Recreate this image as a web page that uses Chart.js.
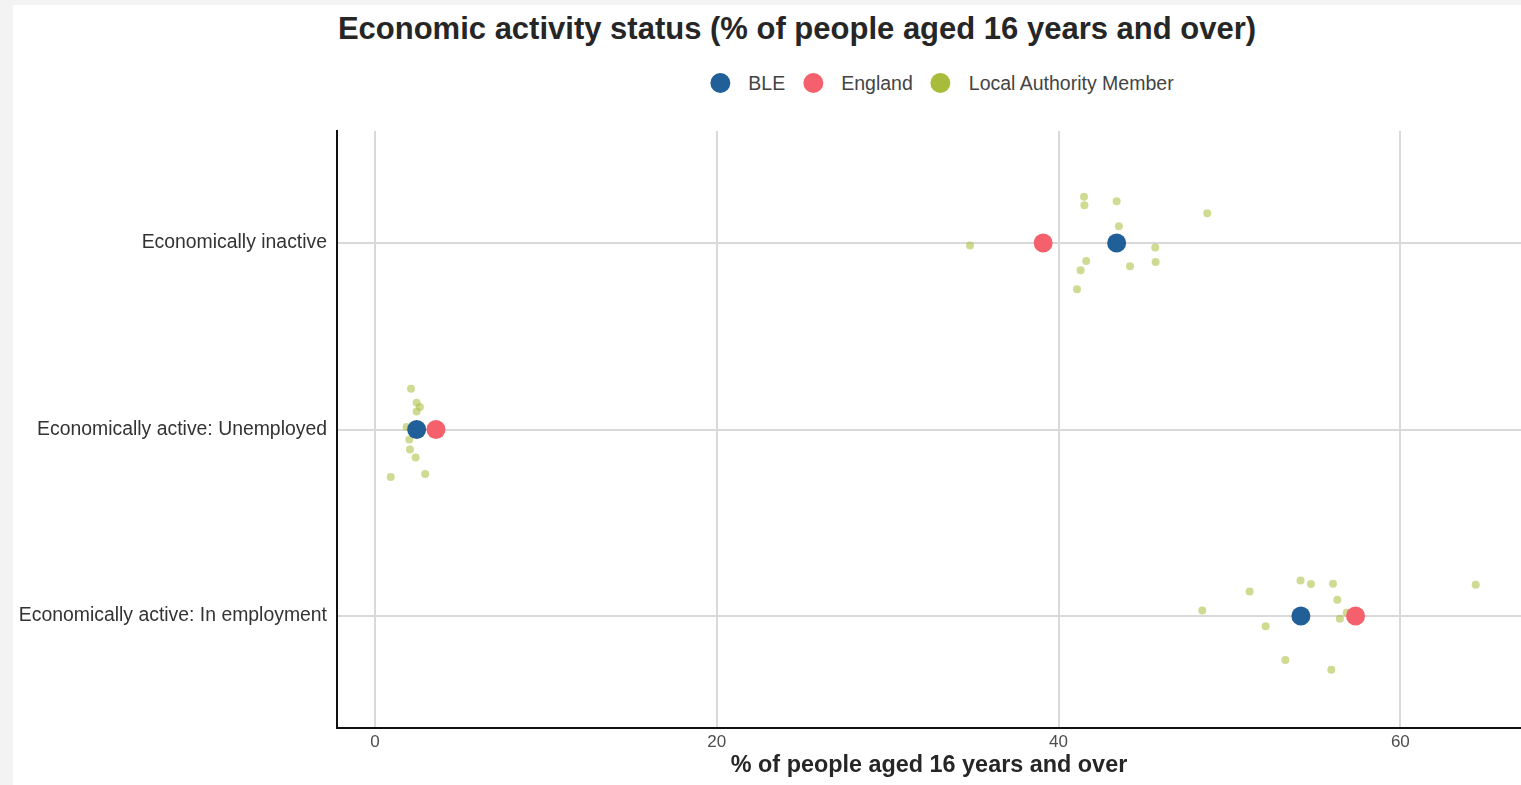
<!DOCTYPE html>
<html>
<head>
<meta charset="utf-8">
<title>Economic activity status</title>
<script src="https://cdn.jsdelivr.net/npm/chart.js@4.4.1/dist/chart.umd.min.js"></script>
<style>
  body { margin: 0; background: #f3f3f3; overflow: hidden; font-family: 'Liberation Sans', Arial, sans-serif; }
  #panel { position: absolute; left: 13px; top: 5px; width: 1508px; height: 780px; background: #fff; }
  #title { position: absolute; left: 784px; top: 8px; transform: translateX(-50%); white-space: nowrap;
           font-size: 31px; font-weight: bold; line-height: 1; color: #262626; }
  #legend { position: absolute; left: 929px; top: 68px; height: 20px; transform: translateX(-50%);
            display: flex; align-items: center; white-space: nowrap; font-size: 19.5px; color: #444; }
  #legend .dot { width: 20px; height: 20px; border-radius: 50%; margin-right: 18px; }
  #legend .lbl { margin-right: 18px; }
  #legend .lbl:last-child { margin-right: 0; }
  #wrap { position: absolute; left: 0; top: 0; width: 1508px; height: 780px; }
</style>
</head>
<body>
<div id="panel">
  <div id="title">Economic activity status (% of people aged 16 years and over)</div>
  <div id="legend"></div>
  <div id="wrap"><canvas id="chart"></canvas></div>
</div>
<script>
// Categories, top to bottom
const categories = ['Economically inactive', 'Economically active: Unemployed', 'Economically active: In employment'];
const xTicks = [0, 20, 40, 60];

// Highlighted series (one value per category)
const bleValues = [43.4, 2.44, 54.18];
const englandValues = [39.1, 3.57, 57.38];

// Local authority members: values and vertical jitter within each category
const laInactive = [34.82, 41.49, 41.51, 43.40, 43.53, 48.70, 45.66, 45.68, 44.18, 41.62, 41.29, 41.08];
const laInactiveJitter = [-0.014, 0.247, 0.202, 0.224, 0.089, 0.159, -0.025, -0.102, -0.125, -0.097, -0.146, -0.248];
const laUnemployed = [2.11, 2.44, 2.63, 2.44, 1.85, 2.01, 2.05, 2.38, 0.92, 2.94];
const laUnemployedJitter = [0.218, 0.143, 0.12, 0.097, 0.014, -0.054, -0.107, -0.15, -0.254, -0.238];
const laEmployment = [48.41, 51.18, 54.16, 54.77, 56.06, 56.31, 56.86, 56.46, 52.12, 53.27, 55.96, 64.41];
const laEmploymentJitter = [0.03, 0.132, 0.191, 0.172, 0.173, 0.087, 0.018, -0.014, -0.054, -0.236, -0.288, 0.168];

const COLORS = {
  ble: '#215f98',
  england: '#f4616d',
  la: '#a9bb3a'
};
const FONT_FAMILY = "'Liberation Sans', Arial, Helvetica, sans-serif";

// category i sits at y = n - i so the first category is on top
const catY = i => categories.length - i;

const lists = [laInactive, laUnemployed, laEmployment];
const jitters = [laInactiveJitter, laUnemployedJitter, laEmploymentJitter];
const laPoints = [];
lists.forEach((vals, i) => {
  vals.forEach((v, j) => laPoints.push({ x: v, y: catY(i) + jitters[i][j] }));
});

const datasets = [
  {
    label: 'BLE',
    data: bleValues.map((v, i) => ({ x: v, y: catY(i) })),
    backgroundColor: COLORS.ble,
    pointRadius: 9.5,
    borderWidth: 0
  },
  {
    label: 'England',
    data: englandValues.map((v, i) => ({ x: v, y: catY(i) })),
    backgroundColor: COLORS.england,
    pointRadius: 9.5,
    borderWidth: 0
  },
  {
    label: 'Local Authority Member',
    data: laPoints,
    backgroundColor: 'rgba(169, 187, 58, 0.55)',
    pointRadius: 4,
    borderWidth: 0
  }
];

// html legend
const legendEl = document.getElementById('legend');
const legendColors = [COLORS.ble, COLORS.england, COLORS.la];
datasets.forEach((ds, i) => {
  const dot = document.createElement('span');
  dot.className = 'dot';
  dot.style.background = legendColors[i];
  const lbl = document.createElement('span');
  lbl.className = 'lbl';
  lbl.textContent = ds.label;
  legendEl.appendChild(dot);
  legendEl.appendChild(lbl);
});

Chart.defaults.font.family = FONT_FAMILY;

new Chart(document.getElementById('chart'), {
  type: 'scatter',
  data: { datasets },
  options: {
    responsive: true,
    maintainAspectRatio: false,
    animation: false,
    layout: { autoPadding: false, padding: { top: 126, left: 0, right: 0, bottom: 0 } },
    plugins: {
      legend: { display: false },
      title: { display: false },
      tooltip: { enabled: true }
    },
    scales: {
      x: {
        type: 'linear',
        min: -2.22,
        max: 67.06,
        afterBuildTicks: scale => { scale.ticks = xTicks.map(v => ({ value: v })); },
        afterFit: scale => {
          scale.height = 57;
          scale.paddingLeft = 0;
          scale.paddingRight = 0;
        },
        grid: { color: '#d9d9d9', lineWidth: 2, drawTicks: false },
        border: { color: '#111', width: 2 },
        ticks: { color: '#4d4d4d', font: { size: 17 }, padding: 4 },
        title: {
          display: true,
          text: '% of people aged 16 years and over',
          color: '#262626',
          font: { size: 23.4, weight: 'bold' },
          padding: { top: 0, bottom: 5 }
        }
      },
      y: {
        type: 'linear',
        min: 0.4,
        max: 3.6,
        afterBuildTicks: scale => { scale.ticks = categories.map((c, i) => ({ value: catY(i) })); },
        afterFit: scale => { scale.width = 324; },
        grid: { color: '#d9d9d9', lineWidth: 2, drawTicks: false },
        border: { color: '#111', width: 2 },
        ticks: {
          color: '#333',
          font: { size: 19.4 },
          padding: 10,
          callback: value => categories[categories.length - value]
        }
      }
    }
  }
});
</script>
</body>
</html>
